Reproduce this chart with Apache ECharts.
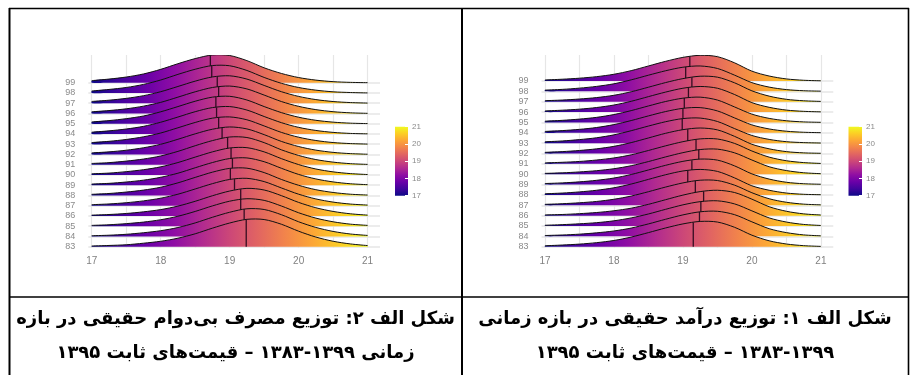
<!DOCTYPE html>
<html><head><meta charset="utf-8">
<script src="https://cdn.jsdelivr.net/npm/echarts@6/dist/echarts.min.js"></script>
<style>html,body{margin:0;padding:0;background:#fff}#c{width:910px;height:375px}</style>
</head><body><div id="c"></div>
<script>
const xGrid = [17,17.25,17.5,17.75,18,18.25,18.5,18.75,19,19.25,19.5,19.75,20,20.25,20.5,20.75,21];
const yearLabels = ['83','84','85','86','87','88','89','90','91','92','93','94','95','96','97','98','99'];
const xLabelValues = [17,18,19,20,21];
const xGridValues = [17,17.5,18,18.5,19,19.5,20,20.5,21];
const colorbarTicks = [17,18,19,20,21];
const plasma = ['#0d0887','#41049d','#6a00a8','#8f0da4','#b12a90','#cc4778','#e16462','#f2844b','#fca636','#fcce25','#f0f921'];

// Figure A2: real non-durable consumption (left panel), rows 83..99
const consMedian = [19.24,19.21,19.16,19.16,19.07,19.01,19.04,19.02,18.97,18.89,18.84,18.81,18.80,18.84,18.82,18.74,18.72];
const consDensity = [
 [0.07,0.12,0.19,0.34,0.53,0.83,1.26,1.81,2.31,2.67,2.65,2.19,1.51,0.94,0.53,0.27,0.11],
 [0.07,0.12,0.21,0.36,0.56,0.87,1.32,1.87,2.36,2.70,2.63,2.12,1.43,0.88,0.49,0.24,0.10],
 [0.08,0.14,0.25,0.40,0.63,0.97,1.44,1.98,2.44,2.68,2.52,1.97,1.31,0.79,0.43,0.20,0.08],
 [0.08,0.14,0.24,0.40,0.62,0.96,1.43,1.97,2.43,2.69,2.53,1.98,1.32,0.80,0.44,0.21,0.08],
 [0.10,0.17,0.29,0.47,0.73,1.12,1.63,2.15,2.56,2.67,2.35,1.73,1.12,0.66,0.35,0.16,0.06],
 [0.11,0.19,0.33,0.52,0.80,1.23,1.76,2.27,2.64,2.66,2.23,1.56,0.99,0.56,0.29,0.12,0.04],
 [0.11,0.18,0.31,0.49,0.77,1.17,1.70,2.21,2.60,2.66,2.29,1.65,1.05,0.61,0.32,0.14,0.05],
 [0.11,0.18,0.32,0.51,0.79,1.21,1.74,2.25,2.63,2.66,2.25,1.59,1.01,0.58,0.30,0.13,0.04],
 [0.12,0.20,0.35,0.55,0.85,1.30,1.85,2.35,2.70,2.65,2.15,1.45,0.90,0.50,0.25,0.10,0.03],
 [0.15,0.25,0.41,0.65,0.99,1.48,2.01,2.46,2.68,2.49,1.93,1.27,0.77,0.42,0.20,0.08,0.02],
 [0.16,0.28,0.46,0.72,1.09,1.60,2.12,2.54,2.66,2.38,1.78,1.15,0.68,0.36,0.16,0.06,0.01],
 [0.17,0.30,0.48,0.74,1.14,1.65,2.17,2.57,2.67,2.33,1.70,1.10,0.64,0.34,0.15,0.05,0.01],
 [0.17,0.30,0.49,0.75,1.16,1.67,2.19,2.59,2.67,2.31,1.67,1.08,0.63,0.33,0.15,0.05,0.01],
 [0.16,0.28,0.45,0.71,1.08,1.59,2.11,2.53,2.67,2.39,1.79,1.16,0.69,0.37,0.17,0.06,0.01],
 [0.17,0.29,0.47,0.73,1.12,1.63,2.15,2.56,2.67,2.35,1.73,1.12,0.66,0.35,0.16,0.06,0.01],
 [0.19,0.34,0.53,0.83,1.26,1.81,2.31,2.67,2.65,2.19,1.51,0.94,0.53,0.27,0.11,0.04,0.00],
 [0.20,0.35,0.55,0.85,1.30,1.85,2.35,2.70,2.65,2.15,1.45,0.90,0.50,0.25,0.10,0.03,0.00]
];

// Figure A1: real income (right panel), rows 83..99
const incMedian = [19.15,19.24,19.26,19.30,19.18,19.07,19.13,19.23,19.19,19.07,18.99,19.00,19.02,19.08,19.13,19.04,19.10];
const incDensity = [
 [0.09,0.16,0.25,0.39,0.60,0.93,1.36,1.81,2.20,2.44,2.38,1.87,1.11,0.57,0.26,0.10,0.03],
 [0.08,0.13,0.21,0.34,0.52,0.80,1.20,1.65,2.07,2.37,2.42,2.09,1.40,0.74,0.36,0.14,0.05],
 [0.07,0.13,0.21,0.32,0.50,0.78,1.16,1.61,2.04,2.35,2.43,2.13,1.46,0.78,0.38,0.15,0.05],
 [0.07,0.11,0.19,0.30,0.47,0.72,1.09,1.54,1.98,2.32,2.45,2.23,1.59,0.86,0.42,0.17,0.06],
 [0.09,0.15,0.24,0.37,0.58,0.89,1.31,1.76,2.16,2.42,2.39,1.94,1.21,0.63,0.29,0.11,0.04],
 [0.11,0.18,0.29,0.45,0.69,1.05,1.50,1.95,2.31,2.46,2.27,1.64,0.88,0.45,0.18,0.06,0.02],
 [0.10,0.16,0.26,0.41,0.63,0.97,1.41,1.86,2.24,2.46,2.36,1.80,1.03,0.53,0.22,0.08,0.03],
 [0.08,0.13,0.22,0.34,0.53,0.82,1.22,1.67,2.08,2.38,2.42,2.06,1.37,0.72,0.35,0.14,0.05],
 [0.09,0.15,0.23,0.37,0.57,0.87,1.29,1.74,2.14,2.41,2.40,1.97,1.24,0.65,0.30,0.12,0.04],
 [0.11,0.18,0.29,0.45,0.69,1.05,1.50,1.95,2.30,2.46,2.28,1.65,0.89,0.45,0.18,0.06,0.02],
 [0.13,0.21,0.34,0.52,0.80,1.20,1.65,2.07,2.37,2.42,2.09,1.40,0.74,0.36,0.14,0.05,0.01],
 [0.13,0.21,0.33,0.51,0.79,1.18,1.63,2.05,2.36,2.43,2.11,1.43,0.76,0.37,0.15,0.05,0.01],
 [0.12,0.20,0.32,0.49,0.76,1.14,1.59,2.02,2.34,2.44,2.16,1.49,0.80,0.39,0.16,0.05,0.01],
 [0.11,0.18,0.28,0.44,0.68,1.04,1.49,1.93,2.30,2.47,2.30,1.69,0.91,0.46,0.19,0.07,0.02],
 [0.10,0.16,0.26,0.40,0.62,0.96,1.40,1.85,2.23,2.46,2.37,1.82,1.05,0.54,0.23,0.09,0.03],
 [0.12,0.19,0.31,0.48,0.73,1.11,1.56,1.99,2.33,2.45,2.21,1.56,0.84,0.41,0.17,0.06,0.02],
 [0.10,0.17,0.27,0.42,0.65,1.00,1.45,1.90,2.28,2.48,2.35,1.75,0.95,0.48,0.20,0.07,0.02]
];

// captions (Persian, right-to-left). U+061C (Arabic letter mark) keeps the year range in RTL order on a line of its own.
const captionLeft = ['شکل الف ۲: توزیع مصرف بی\u200cدوام حقیقی در بازه', 'زمانی ۱۳۹۹-۱۳۸۳ – قیمت\u200cهای ثابت ۱۳۹۵'];
const captionRight = ['شکل الف ۱: توزیع درآمد حقیقی در بازه زمانی', '\u061C۱۳۹۹-۱۳۸۳ – قیمت\u200cهای ثابت ۱۳۹۵'];

function gradStops(){ return plasma.map((c,i)=>({offset:i/(plasma.length-1), color:c})); }
function interpAt(ys, x){
  for (let i=0;i<xGrid.length-1;i++){
    if (x>=xGrid[i] && x<=xGrid[i+1]){ const t=(x-xGrid[i])/(xGrid[i+1]-xGrid[i]); return ys[i]+(ys[i+1]-ys[i])*t; }
  }
  return 0;
}
function ridgeSeries(g, dens, meds){
  const n = dens.length;
  const order = []; for (let k=n-1;k>=0;k--) order.push(k);
  return {
    type:'custom', xAxisIndex:g, yAxisIndex:g, coordinateSystem:'cartesian2d', silent:true, animation:false, clip:true,
    data: order.map(k=>[meds[k], Number(yearLabels[k]), k]),
    encode:{x:0, y:1},
    renderItem:function(params, api){
      const k = api.value(2);
      const base = api.value(1);
      const d = dens[k];
      const top = xGrid.map((x,i)=>api.coord([x, base + d[i]]));
      const bottom = xGrid.map(x=>api.coord([x, base])).reverse();
      const poly = top.concat(bottom);
      const m = api.value(0);
      const p0 = api.coord([m, base]);
      const p1 = api.coord([m, base + interpAt(d, m)]);
      const zb = params.dataIndex*4;
      return {type:'group', children:[
        {type:'polygon', shape:{points:poly, smooth:0.3}, style:{fill:new echarts.graphic.LinearGradient(0,0,1,0,gradStops()), stroke:null}, z2:zb},
        {type:'polyline', shape:{points:top, smooth:0.3}, style:{stroke:'#111111', lineWidth:1, fill:null}, z2:zb+1},
        {type:'line', shape:{x1:p0[0], y1:p0[1], x2:p1[0], y2:p1[1]}, style:{stroke:'rgba(35,5,25,0.9)', lineWidth:1.3}, z2:zb+2}
      ]};
    }
  };
}
function ridgeX(g){
  return {type:'value', gridIndex:g, min:16.95, max:21.18,
    axisLine:{show:false}, axisTick:{show:false, customValues:xGridValues},
    axisLabel:{customValues:xLabelValues, color:'#808080', fontSize:10, fontFamily:'Liberation Sans', margin:8},
    splitLine:{show:true, lineStyle:{color:'#e6e6e6', width:1.2}}};
}
function ridgeY(g, min, max){
  const vals = yearLabels.map(Number);
  return {type:'value', gridIndex:g, min:min, max:max,
    axisLine:{show:false}, axisTick:{show:false, customValues:vals},
    axisLabel:{customValues:vals, color:'#8a8a8a', fontSize:9, fontFamily:'Liberation Sans', margin:13, formatter:v=>yearLabels[vals.indexOf(v)]||''},
    splitLine:{show:true, lineStyle:{color:'#e6e6e6', width:1.5}}};
}
function cbX(g){ return {type:'category', gridIndex:g, data:['c'], show:false}; }
function cbY(g){
  return {type:'value', gridIndex:g, min:colorbarTicks[0], max:colorbarTicks[colorbarTicks.length-1], interval:1, position:'right',
    axisLine:{show:false}, axisTick:{show:true, inside:true, length:3, lineStyle:{color:'#ffffff', width:1}},
    axisLabel:{color:'#8a8a8a', fontSize:8, fontFamily:'Liberation Sans', margin:4}, splitLine:{show:false}, z:20};
}
function cbSeries(g){
  const lo = colorbarTicks[0], hi = colorbarTicks[colorbarTicks.length-1];
  return [
    {type:'bar', xAxisIndex:g, yAxisIndex:g, stack:'cb'+g, data:[lo], barWidth:'100%', itemStyle:{color:'rgba(0,0,0,0)'}, silent:true, animation:false},
    {type:'bar', xAxisIndex:g, yAxisIndex:g, stack:'cb'+g, data:[hi-lo], barWidth:'100%', itemStyle:{color:new echarts.graphic.LinearGradient(0,1,0,0,gradStops())}, silent:true, animation:false}
  ];
}

const borderStyle = {stroke:'#000', lineWidth:1.6};
const graphics = [
  {type:'line', shape:{x1:9, y1:8.5, x2:909, y2:8.5}, style:borderStyle},
  {type:'line', shape:{x1:9.5, y1:8, x2:9.5, y2:375}, style:{stroke:'#000', lineWidth:2}},
  {type:'line', shape:{x1:462, y1:8, x2:462, y2:375}, style:{stroke:'#000', lineWidth:2}},
  {type:'line', shape:{x1:908.5, y1:8, x2:908.5, y2:375}, style:borderStyle},
  {type:'line', shape:{x1:9, y1:297, x2:909, y2:297}, style:borderStyle}
];
const capFont = 'bold 18px "DejaVu Sans", "Noto Sans", sans-serif';
[[captionLeft, 235.5],[captionRight, 685]].forEach(([lines,cx])=>{
  lines.forEach((t,i)=>{
    graphics.push({type:'text', x:cx, y:319+i*34, style:{text:t, font:capFont, fill:'#000', align:'center', verticalAlign:'middle'}, z:50});
  });
});

const chart = echarts.init(document.getElementById('c'), null, {renderer:'canvas'});
chart.setOption({
  animation:false,
  backgroundColor:'#ffffff',
  grid:[
    {left:88.3, top:55, width:291.7, height:193},
    {left:541.5, top:55, width:291.8, height:193},
    {left:395, top:126.7, width:13, height:69},
    {left:848.5, top:126.7, width:13.5, height:69}
  ],
  xAxis:[ridgeX(0), ridgeX(1), cbX(2), cbX(3)],
  yAxis:[ridgeY(0, 82.873, 101.70), ridgeY(1, 82.874, 101.51), cbY(2), cbY(3)],
  series:[ridgeSeries(0, consDensity, consMedian), ridgeSeries(1, incDensity, incMedian)].concat(cbSeries(2), cbSeries(3)),
  graphic:graphics
});
</script></body></html>
